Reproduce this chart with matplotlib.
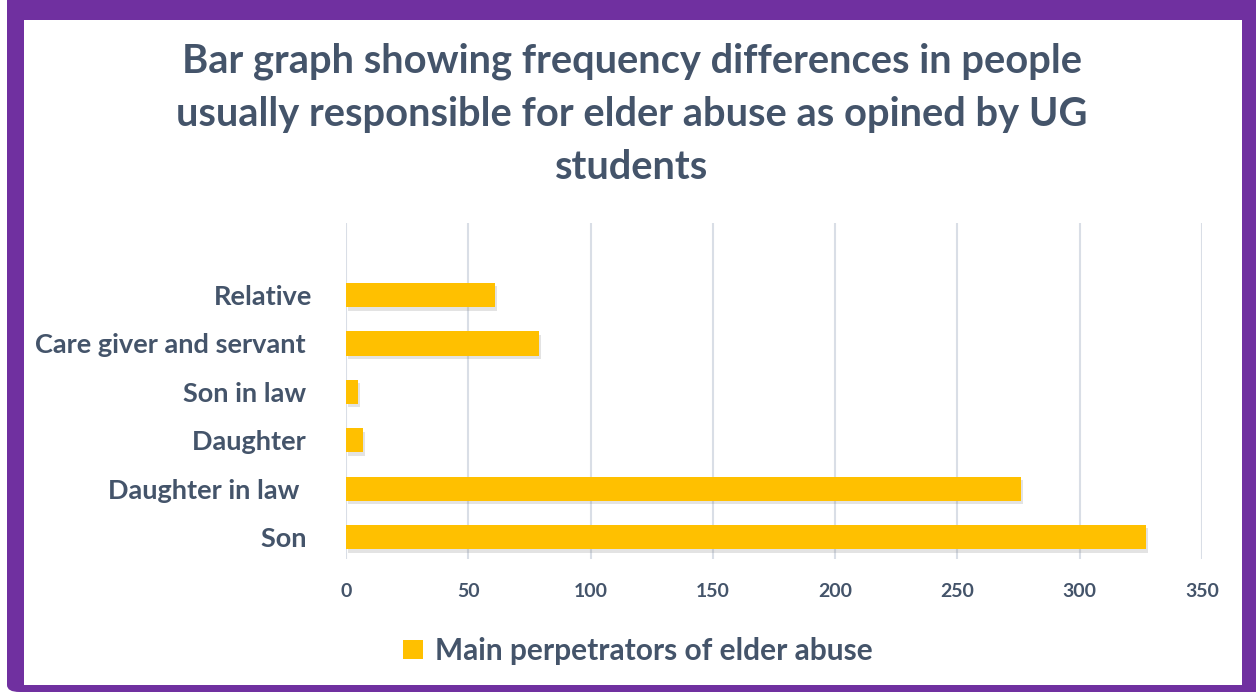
import matplotlib
matplotlib.use('Agg')
import matplotlib.pyplot as plt
from matplotlib import patches, patheffects

plt.rcParams['font.family'] = ['Lato', 'DejaVu Sans']
plt.rcParams['font.weight'] = 'bold'

# data
categories = ['Son ', 'Daughter in law  ', 'Daughter ', 'Son in law ', 'Care giver and servant ', 'Relative']
values = [327, 276, 7, 5, 79, 61]
xticks = [0, 50, 100, 150, 200, 250, 300, 350]
title = 'Bar graph showing frequency differences in people\nusually responsible for elder abuse as opined by UG\nstudents'
legend_label = 'Main perpetrators of elder abuse'

TXT = '#44546A'
BAR = '#FFC000'
PURPLE = '#7030A0'

W, H = 1256, 696
fig = plt.figure(figsize=(W / 100, H / 100), dpi=100)

# purple frame behind everything
frame = patches.FancyBboxPatch((7 / W, 4 / H), (W - 7) / W + 0.02, (H - 4) / H + 0.02,
                               boxstyle='round,pad=0,rounding_size=0.01',
                               transform=fig.transFigure, facecolor=PURPLE, edgecolor='none', zorder=-2)
fig.patches.append(frame)
inner = patches.Rectangle((24 / W, 1 - 685 / H), (1242 - 24) / W, (685 - 20) / H,
                          transform=fig.transFigure, facecolor='white', edgecolor='none', zorder=-1)
fig.patches.append(inner)

ax = fig.add_axes([346 / W, 1 - 559 / H, (1202 - 346) / W, (559 - 223) / H])
ax.set_facecolor('none')
ypos = list(range(len(categories)))
bars = ax.barh(ypos, values, height=0.5, color=BAR, zorder=3)
for b in bars:
    b.set_path_effects([patheffects.SimplePatchShadow(offset=(1.5, -2.5), shadow_rgbFace='#808080', alpha=0.22),
                        patheffects.Normal()])

ax.set_xlim(0, 350)
ax.set_ylim(-0.455, 6.49)
ax.set_xticks(xticks)
ax.set_xticklabels([str(t) for t in xticks])
ax.set_yticks(ypos)
ax.set_yticklabels(categories)
ax.grid(axis='x', color='#D9DEE6', linewidth=1.5, zorder=0)
for s in ax.spines.values():
    s.set_visible(False)
ax.tick_params(axis='both', length=0, colors=TXT)
ax.tick_params(axis='x', labelsize=14, pad=17)
ax.tick_params(axis='y', labelsize=19.5, pad=24)
for lbl in ax.get_xticklabels() + ax.get_yticklabels():
    lbl.set_fontweight('bold')
    lbl.set_color(TXT)

fig.text(632 / W, 1 - 114 / H, title, ha='center', va='center', fontsize=28.7,
         fontweight='bold', color=TXT, linespacing=1.53)

handle = patches.Patch(facecolor=BAR, edgecolor='none')
leg = fig.legend(handles=[handle], labels=[legend_label], loc='center', bbox_to_anchor=(638 / W, 1 - 651 / H),
                 frameon=False, fontsize=21.5, handlelength=0.65, handleheight=0.65, handletextpad=0.4)
for t in leg.get_texts():
    t.set_color(TXT)
    t.set_fontweight('bold')

fig.savefig('out.png', dpi=100)
